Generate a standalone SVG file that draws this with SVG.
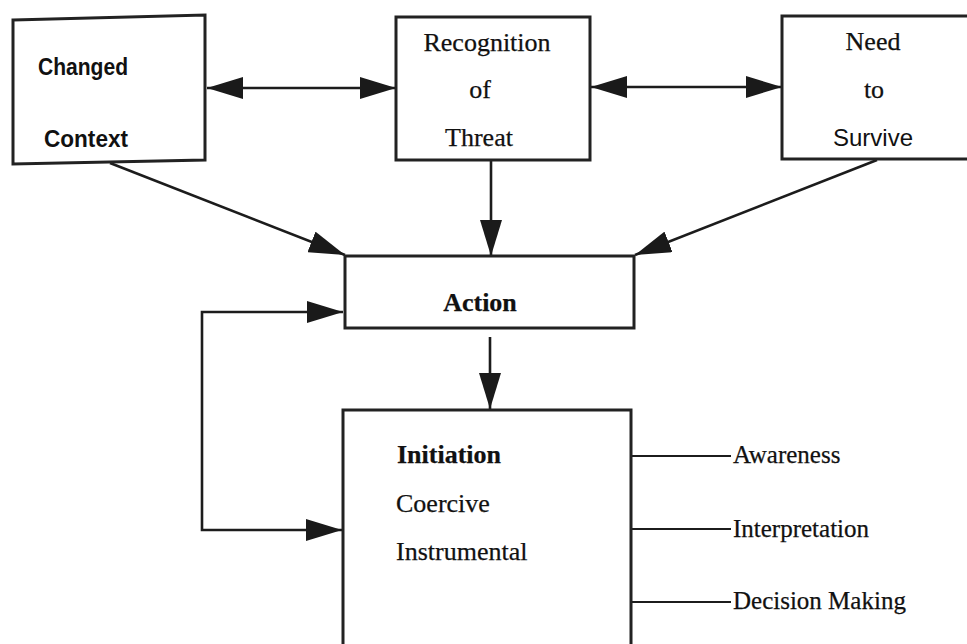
<svg xmlns="http://www.w3.org/2000/svg" width="967" height="644" viewBox="0 0 967 644">
  <style>
    .box { fill: none; stroke: #222; stroke-width: 3; }
    .conn { fill: none; stroke: #1c1c1c; stroke-width: 2.6; }
    .tick { fill: none; stroke: #1c1c1c; stroke-width: 2.2; }
    .serif { font-family: "Liberation Serif", "Times New Roman", serif; font-size: 26px; fill: #111; stroke: #111; stroke-width: 0.25; }
    .sans { font-family: "Liberation Sans", Arial, sans-serif; font-size: 24px; fill: #111; }
    .bold { font-weight: bold; }
    .mid { text-anchor: middle; }
  </style>
  <defs>
    <marker id="head" markerUnits="userSpaceOnUse" markerWidth="38" markerHeight="22" refX="36" refY="11" orient="auto-start-reverse" viewBox="0 0 38 22">
      <path d="M0,0 L36,11 L0,22 Z" fill="#1a1a1a"/>
    </marker>
  </defs>
  <rect width="967" height="644" fill="#ffffff"/>

  <!-- Connectors -->
  <g id="connectors">
    <line class="conn" x1="207" y1="88" x2="396" y2="88" marker-start="url(#head)" marker-end="url(#head)"/>
    <line class="conn" x1="591" y1="87" x2="782" y2="87" marker-start="url(#head)" marker-end="url(#head)"/>
    <line class="conn" x1="110" y1="163" x2="345" y2="255" marker-end="url(#head)"/>
    <line class="conn" x1="491" y1="160" x2="491" y2="256" marker-end="url(#head)"/>
    <line class="conn" x1="877" y1="160" x2="635" y2="255" marker-end="url(#head)"/>
    <path class="conn" d="M343,312 L202,312 L202,530 L342,530" marker-start="url(#head)" marker-end="url(#head)"/>
    <line class="conn" x1="490" y1="337" x2="490" y2="409" marker-end="url(#head)"/>
    <line class="tick" x1="631" y1="456" x2="731" y2="456"/>
    <line class="tick" x1="631" y1="529" x2="731" y2="529"/>
    <line class="tick" x1="631" y1="602" x2="731" y2="602"/>
  </g>

  <!-- Changed Context -->
  <g id="changed-context">
    <path class="box" d="M13,20 L205,15 L205,160 L13,164 Z"/>
    <text class="sans bold" x="38" y="75" textLength="90" lengthAdjust="spacingAndGlyphs">Changed</text>
    <text class="sans bold" x="44" y="147" textLength="84" lengthAdjust="spacingAndGlyphs">Context</text>
  </g>

  <!-- Recognition of Threat -->
  <g id="recognition-of-threat">
    <rect class="box" x="396" y="17" width="194" height="143"/>
    <text class="serif mid" x="487" y="51">Recognition</text>
    <text class="serif mid" x="480" y="98">of</text>
    <text class="serif mid" x="479" y="146">Threat</text>
  </g>

  <!-- Need to Survive (open on the right edge) -->
  <g id="need-to-survive">
    <path class="box" d="M970,16 L782,16 L782,159 L970,159"/>
    <text class="serif mid" x="873" y="50">Need</text>
    <text class="serif mid" x="874" y="98">to</text>
    <text class="sans mid" x="873" y="146">Survive</text>
  </g>

  <!-- Action -->
  <g id="action">
    <rect class="box" x="345" y="256" width="289" height="72"/>
    <text class="serif bold mid" x="480" y="311">Action</text>
  </g>

  <!-- Initiation (runs off the bottom edge) -->
  <g id="initiation">
    <path class="box" d="M343,650 L343,410 L631,410 L631,650"/>
    <text class="serif bold" x="397" y="463">Initiation</text>
    <text class="serif" x="396" y="512">Coercive</text>
    <text class="serif" x="396" y="560">Instrumental</text>
  </g>

  <!-- Side labels -->
  <g id="awareness">
    <text class="serif" x="733" y="463" style="font-size:25px">Awareness</text>
  </g>
  <g id="interpretation">
    <text class="serif" x="733" y="537" style="font-size:25px">Interpretation</text>
  </g>
  <g id="decision-making">
    <text class="serif" x="733" y="609" style="font-size:25px">Decision Making</text>
  </g>
</svg>
